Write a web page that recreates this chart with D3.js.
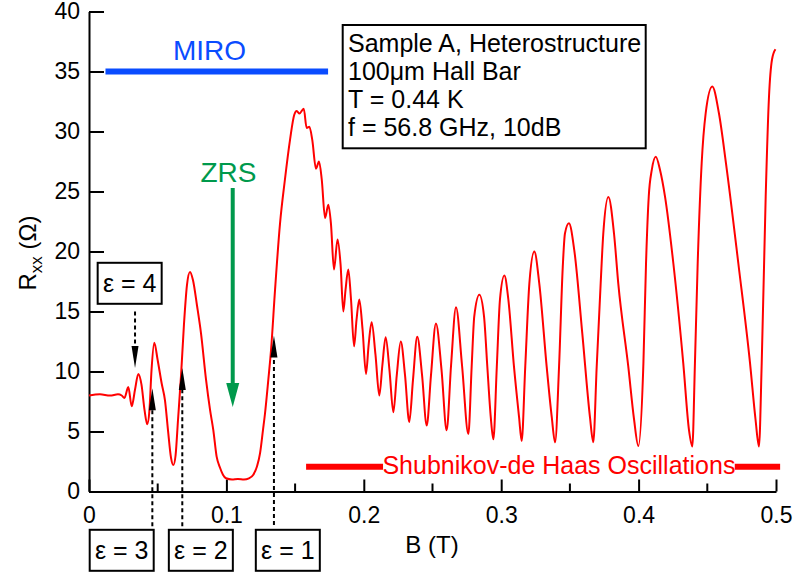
<!DOCTYPE html>
<html>
<head>
<meta charset="utf-8">
<script src="https://cdn.jsdelivr.net/npm/d3@7"></script>
<style>
  body { margin: 0; background: #fff; }
  text { font-family: "Liberation Sans", Arial, sans-serif; }
</style>
</head>
<body>
<div id="chart"></div>
<script>
// ===== data: B (T) and Rxx (Ohm)
var bField = [
  0, 0.008, 0.0153, 0.0211, 0.0238, 0.0258, 0.0286, 0.0311, 0.0335, 0.0359,
  0.0382, 0.0404, 0.0424, 0.0440, 0.0455, 0.0475, 0.0499, 0.0529, 0.0553, 0.0575,
  0.0597, 0.0614, 0.0630, 0.0648, 0.0670, 0.0691, 0.0713, 0.0735, 0.0757, 0.0786,
  0.0815, 0.0852, 0.0881, 0.0905, 0.0929, 0.0953, 0.0975, 0.0997, 0.1041, 0.1084,
  0.1128, 0.1164, 0.1196, 0.1223, 0.1245, 0.1266, 0.1281, 0.1305, 0.1325, 0.1354,
  0.1390, 0.1426, 0.1463, 0.1494, 0.1512, 0.1532, 0.1563, 0.1584, 0.1604, 0.1625,
  0.1652, 0.1674, 0.1694, 0.1718, 0.1742, 0.1761, 0.1783, 0.1809, 0.1831, 0.1851,
  0.1867, 0.1887, 0.1907, 0.1929, 0.1947, 0.1967, 0.1991, 0.2016, 0.2035, 0.2057,
  0.2085, 0.2113, 0.2135, 0.2159, 0.2187, 0.2215, 0.2240, 0.2269, 0.2300, 0.2331,
  0.2358, 0.2389, 0.2424, 0.2458, 0.2489, 0.2525, 0.2566, 0.2603, 0.2635, 0.2671,
  0.2715, 0.2761, 0.2785, 0.2804, 0.2841, 0.2875, 0.2899, 0.2924, 0.2943, 0.2968,
  0.2991, 0.3023, 0.3052, 0.3093, 0.3130, 0.3149, 0.3175, 0.3205, 0.3241, 0.3277,
  0.3331, 0.3368, 0.3392, 0.3421, 0.3448, 0.3464, 0.3493, 0.3532, 0.3590, 0.3646,
  0.3670, 0.3695, 0.3724, 0.3743, 0.3780, 0.3821, 0.3852, 0.3925, 0.3967, 0.3998,
  0.4035, 0.4054, 0.4074, 0.4096, 0.4125, 0.4156, 0.4192, 0.4253, 0.4325, 0.4367,
  0.4391, 0.4410, 0.4430, 0.4459, 0.4488, 0.4536, 0.4585, 0.4636, 0.4726, 0.4811,
  0.4851, 0.4876, 0.4896, 0.4925, 0.4949, 0.4971, 0.4996
];
var rxx = [
  8.0, 8.1, 8.0, 8.1, 8.0, 7.8, 8.7, 7.1, 8.5, 9.8,
  8.9, 6.8, 5.6, 6.8, 10.1, 12.4, 11.0, 9.0, 7.6, 5.1,
  2.8, 2.2, 3.0, 6.0, 9.7, 13.9, 17.2, 18.3, 17.6, 15.5,
  13.2, 9.3, 6.8, 5.1, 2.9, 2.0, 1.4, 1.1, 1.0, 1.05,
  1.0, 1.1, 1.4, 2.1, 3.2, 5.1, 6.5, 9.3, 11.8, 16.8,
  22.3, 26.0, 29.3, 31.4, 31.7, 31.5, 31.9, 30.3, 30.4, 29.3,
  26.9, 27.5, 26.0, 22.8, 23.9, 22.3, 18.5, 21.0, 18.9, 15.0,
  16.8, 18.5, 16.0, 12.1, 14.3, 16.0, 13.5, 9.8, 12.2, 14.1,
  11.4, 8.0, 10.5, 12.85, 10.1, 6.6, 9.7, 12.5, 9.7, 5.8,
  9.3, 12.9, 9.7, 5.5, 9.7, 14.0, 10.1, 5.1, 10.5, 15.35,
  10.5, 4.8, 10.4, 14.6, 16.4, 14.6, 10.4, 6.2, 4.35, 10.4,
  16.0, 18.0, 16.0, 10.4, 6.2, 4.2, 10.4, 17.35, 20.0, 17.35,
  10.4, 6.2, 4.1, 10.4, 18.7, 21.5, 22.35, 20.1, 13.2, 6.2,
  4.1, 10.4, 17.35, 21.5, 24.55, 21.5, 17.35, 10.4, 6.0, 3.8,
  10.7, 19.0, 24.6, 26.8, 27.9, 26.8, 24.6, 19.0, 10.7, 5.1,
  3.75, 10.7, 19.0, 27.35, 31.5, 33.75, 31.5, 27.35, 19.0, 10.7,
  6.0, 3.75, 10.7, 24.6, 32.9, 36.0, 36.85
];

var xTicks = [0, 0.1, 0.2, 0.3, 0.4, 0.5];
var xMinorTicks = [0.05, 0.15, 0.25, 0.35, 0.45];
var yTicks = [0, 5, 10, 15, 20, 25, 30, 35, 40];

var infoLines = ["Sample A, Heterostructure", "100\u03bcm Hall Bar", "T = 0.44 K", "f = 56.8 GHz, 10dB"];

// annotation anchors (B, Rxx)
var miroBar = [0.012, 0.174, 35];
var sdhBars = [[0.158, 0.214], [0.470, 0.503]];
var zrsArrow = { b: 0.1046, from: 25.3, to: 7.05 };
var epsArrows = [
  { b: 0.0335, from: 15.0, to: 10.3 },
  { b: 0.0461, from: -2.9, to: 8.6 },
  { b: 0.0679, from: -2.9, to: 10.3 },
  { b: 0.1346, from: -2.8, to: 13.0 }
];
var epsBoxes = [
  { label: "\u03b5 = 4", b: 0.0296, r: 17.35 },
  { label: "\u03b5 = 3", b: 0.0238, r: -4.9 },
  { label: "\u03b5 = 2", b: 0.0814, r: -4.9 },
  { label: "\u03b5 = 1", b: 0.1447, r: -4.9 }
];

// ===== chart setup
var svgWidth = 797, svgHeight = 575;
var svg = d3.select("#chart").append("svg")
  .attr("width", svgWidth)
  .attr("height", svgHeight);

var x = d3.scaleLinear().domain([0, 0.5]).range([89, 776]);
var y = d3.scaleLinear().domain([0, 40]).range([491.5, 11.5]);

// ===== axes
var xAxis = svg.append("g")
  .attr("transform", "translate(0," + y(0) + ")")
  .call(d3.axisBottom(x).tickValues(xTicks).tickSize(-12).tickSizeOuter(0).tickPadding(15)
    .tickFormat(function(d) { return d === 0 ? "0" : d3.format(".1f")(d); }));
xAxis.selectAll(".tick text").attr("font-size", 23).attr("font-family", "Liberation Sans, Arial, sans-serif");

svg.append("g")
  .attr("transform", "translate(0," + y(0) + ")")
  .selectAll("line")
  .data(xMinorTicks)
  .enter().append("line")
  .attr("x1", function(d) { return x(d); })
  .attr("x2", function(d) { return x(d); })
  .attr("y1", 0).attr("y2", -8)
  .attr("stroke", "#000").attr("stroke-width", 2);

var yAxis = svg.append("g")
  .attr("transform", "translate(" + x(0) + ",0)")
  .call(d3.axisLeft(y).tickValues(yTicks).tickSize(-15).tickSizeOuter(0).tickPadding(9));
yAxis.selectAll(".tick text").attr("font-size", 23).attr("font-family", "Liberation Sans, Arial, sans-serif");

svg.selectAll(".domain, .tick line").attr("stroke", "#000").attr("stroke-width", 2);
svg.selectAll(".tick text").attr("fill", "#000");

// axis titles
svg.append("text")
  .attr("x", 432).attr("y", 553)
  .attr("text-anchor", "middle")
  .attr("font-size", 24)
  .text("B (T)");

var yTitle = svg.append("text")
  .attr("transform", "translate(36,253) rotate(-90)")
  .attr("text-anchor", "middle")
  .attr("font-size", 24);
yTitle.append("tspan").text("R");
yTitle.append("tspan").attr("font-size", 17).attr("dy", 6).text("xx");
yTitle.append("tspan").attr("dy", -6).text(" (\u03a9)");

// ===== data curve
var points = bField.map(function(b, i) { return [b, rxx[i]]; });
var line = d3.line()
  .x(function(d) { return x(d[0]); })
  .y(function(d) { return y(d[1]); })
  .curve(d3.curveMonotoneX);

svg.append("path")
  .datum(points)
  .attr("d", line)
  .attr("fill", "none")
  .attr("stroke", "#ff0000")
  .attr("stroke-width", 2)
  .attr("stroke-linejoin", "round");

// ===== MIRO
svg.append("line")
  .attr("x1", x(miroBar[0])).attr("x2", x(miroBar[1]))
  .attr("y1", y(miroBar[2])).attr("y2", y(miroBar[2]))
  .attr("stroke", "#0a4cff").attr("stroke-width", 6);
svg.append("text")
  .attr("x", x(0.0877)).attr("y", y(35.95))
  .attr("text-anchor", "middle").attr("font-size", 28)
  .attr("fill", "#0a4cff")
  .text("MIRO");

// ===== ZRS
var green = "#00994c";
svg.append("text")
  .attr("x", x(0.1015)).attr("y", y(25.8))
  .attr("text-anchor", "middle").attr("font-size", 28)
  .attr("fill", green)
  .text("ZRS");
var zx = x(zrsArrow.b), zTip = y(zrsArrow.to);
svg.append("line")
  .attr("x1", zx).attr("x2", zx)
  .attr("y1", y(zrsArrow.from)).attr("y2", zTip - 20)
  .attr("stroke", green).attr("stroke-width", 4);
svg.append("path")
  .attr("d", "M" + (zx - 6.5) + "," + (zTip - 24) + "L" + (zx + 6.5) + "," + (zTip - 24) + "L" + zx + "," + zTip + "Z")
  .attr("fill", green);

// ===== Shubnikov-de Haas
svg.selectAll(".sdh")
  .data(sdhBars)
  .enter().append("line")
  .attr("x1", function(d) { return x(d[0]); })
  .attr("x2", function(d) { return x(d[1]); })
  .attr("y1", y(2.07)).attr("y2", y(2.07))
  .attr("stroke", "#ff0000").attr("stroke-width", 6);
svg.append("text")
  .attr("x", x(0.342)).attr("y", y(1.45))
  .attr("text-anchor", "middle").attr("font-size", 25)
  .attr("fill", "#ff0000")
  .text("Shubnikov-de Haas Oscillations");

// ===== epsilon arrows (dashed)
epsArrows.forEach(function(a) {
  var ax = x(a.b), y0 = y(a.from), y1 = y(a.to);
  var dir = y1 > y0 ? 1 : -1;
  var headLen = 22, headHalf = 3.5;
  svg.append("line")
    .attr("x1", ax).attr("x2", ax)
    .attr("y1", y0).attr("y2", y1 - dir * (headLen - 2))
    .attr("stroke", "#000").attr("stroke-width", 2)
    .attr("stroke-dasharray", "4,3");
  svg.append("path")
    .attr("d", "M" + (ax - headHalf) + "," + (y1 - dir * headLen) + "L" + (ax + headHalf) + "," + (y1 - dir * headLen) + "L" + ax + "," + y1 + "Z")
    .attr("fill", "#000");
});

var boxW = 64, boxH = 41;
var epsG = svg.selectAll(".epsbox")
  .data(epsBoxes)
  .enter().append("g")
  .attr("transform", function(d) { return "translate(" + x(d.b) + "," + y(d.r) + ")"; });
epsG.append("rect")
  .attr("x", -boxW / 2).attr("y", -boxH / 2)
  .attr("width", boxW).attr("height", boxH)
  .attr("fill", "#fff").attr("stroke", "#000").attr("stroke-width", 2);
epsG.append("text")
  .attr("text-anchor", "middle").attr("y", 9)
  .attr("font-size", 25)
  .text(function(d) { return d.label; });

// ===== info box
svg.append("rect")
  .attr("x", 342.7).attr("y", 25)
  .attr("width", 303).attr("height", 123.3)
  .attr("fill", "#fff").attr("stroke", "#000").attr("stroke-width", 2);
svg.selectAll(".info")
  .data(infoLines)
  .enter().append("text")
  .attr("x", 348).attr("y", function(d, i) { return 52 + i * 28; })
  .attr("font-size", 25)
  .text(function(d) { return d; });
</script>
</body>
</html>
